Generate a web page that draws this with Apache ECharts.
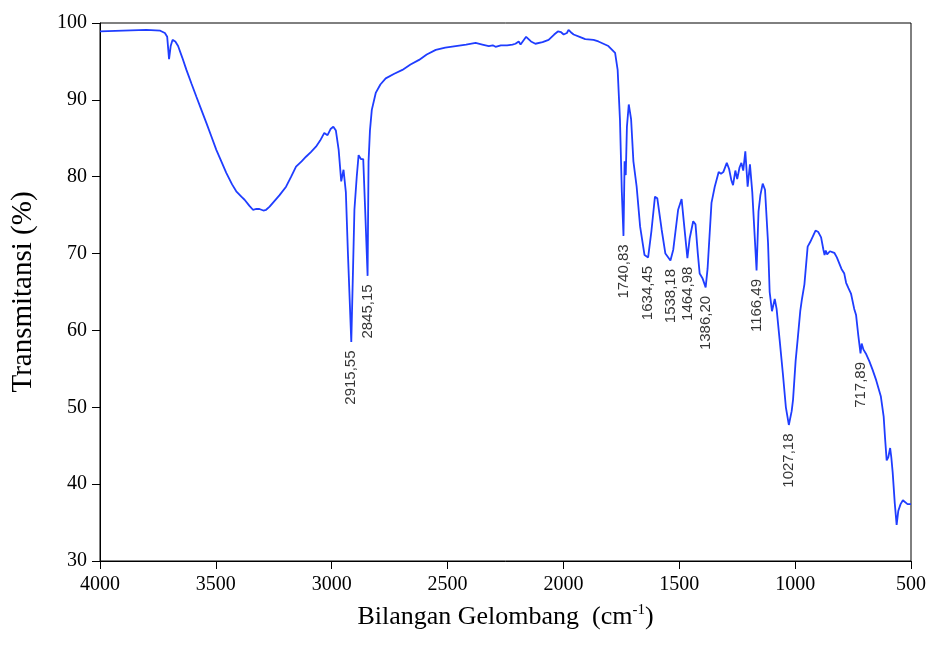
<!DOCTYPE html>
<html>
<head>
<meta charset="utf-8">
<script src="https://cdn.jsdelivr.net/npm/echarts@6/dist/echarts.min.js"></script>
<style>
    html, body { margin: 0; padding: 0; background: #fff; }
    #ftir { width: 929px; height: 649px; }
</style>
</head>
<body>
<div id="ftir"></div>
<script>
    // spektrum FTIR - bilangan gelombang (cm-1) dan transmitansi (%)
    var waveNumber = [
        4000, 3900, 3800, 3740, 3720, 3710, 3702, 3695, 3687, 3675, 3663, 3645, 3627, 3605, 3584, 3560,
        3541, 3520, 3498, 3475, 3455, 3430, 3412, 3390, 3376, 3355, 3340, 3325, 3312, 3295, 3283, 3268,
        3254, 3225, 3197, 3175, 3154, 3130, 3111, 3090, 3068, 3050, 3032, 3018, 3005, 2993, 2982, 2970,
        2959, 2949, 2939, 2930, 2915.55, 2908, 2902, 2892, 2884, 2874, 2864, 2856, 2845.15, 2841, 2835, 2827,
        2810, 2790, 2767, 2730, 2695, 2660, 2623, 2590, 2551, 2510, 2465, 2420, 2379, 2350, 2322, 2305,
        2293, 2270, 2243, 2220, 2207, 2193, 2185, 2161, 2140, 2121, 2090, 2064, 2040, 2024, 2010, 1999,
        1985, 1978, 1968, 1956, 1930, 1906, 1870, 1849, 1806, 1777, 1766, 1756, 1748, 1740.83, 1736, 1731,
        1726, 1718, 1708, 1698, 1684, 1669, 1650, 1634.45, 1620, 1605, 1595, 1576, 1560, 1538.18, 1526, 1505,
        1490, 1480, 1464.98, 1455, 1440, 1430, 1420, 1412, 1400, 1386.20, 1378, 1361, 1347, 1330, 1320, 1310,
        1295, 1285, 1275, 1268, 1258, 1250, 1240, 1232, 1224, 1215, 1205, 1195, 1185, 1166.49, 1158, 1150,
        1140, 1130, 1117, 1110, 1100, 1088, 1080, 1067, 1053, 1040, 1027.18, 1015, 1009, 998, 988, 978,
        971, 960, 946, 935, 924, 912, 900, 888, 878, 873, 868, 862, 850, 840, 831, 820,
        800, 788, 780, 770, 759, 745, 737, 728, 717.89, 713, 705, 695, 680, 666, 650, 630,
        618, 612, 605, 598, 590, 585, 579, 570, 562, 555, 545, 535, 529, 515, 500
    ];
    var transmitansi = [
        98.9, 99.0, 99.1, 99.0, 98.7, 98.2, 95.3, 97.0, 97.8, 97.6, 97.0, 95.5, 93.9, 92.1, 90.4, 88.5,
        87.0, 85.3, 83.5, 81.9, 80.5, 79.0, 78.1, 77.4, 77.0, 76.2, 75.7, 75.8, 75.8, 75.6, 75.7, 76.1,
        76.6, 77.6, 78.7, 80.0, 81.3, 82.0, 82.6, 83.2, 83.9, 84.7, 85.7, 85.4, 86.2, 86.5, 86.0, 83.5,
        79.4, 80.9, 78.0, 70.0, 58.5, 68.0, 75.7, 80.0, 82.8, 82.3, 82.3, 76.0, 67.1, 82.0, 86.0, 88.7,
        90.9, 92.0, 92.8, 93.4, 93.9, 94.6, 95.2, 95.9, 96.5, 96.8, 97.0, 97.2, 97.4, 97.2, 97.0, 97.1,
        96.9, 97.1, 97.1, 97.2, 97.3, 97.6, 97.2, 98.2, 97.6, 97.3, 97.5, 97.8, 98.5, 98.9, 98.8, 98.5,
        98.7, 99.1, 98.8, 98.5, 98.2, 97.9, 97.8, 97.6, 97.0, 96.1, 93.9, 87.4, 78.0, 72.3, 82.0, 80.2,
        86.5, 89.4, 87.5, 82.0, 78.7, 73.5, 69.8, 69.5, 73.0, 77.4, 77.2, 73.1, 70.0, 69.1, 70.5, 75.7,
        77.1, 74.0, 69.4, 72.0, 74.2, 73.8, 70.0, 67.4, 66.8, 65.6, 68.0, 76.6, 78.7, 80.6, 80.4, 80.6,
        81.8, 81.0, 79.5, 78.9, 80.8, 79.7, 81.2, 81.8, 80.8, 83.3, 78.7, 81.6, 78.0, 67.8, 75.5, 77.6,
        79.1, 78.3, 71.4, 65.0, 62.5, 64.1, 62.8, 58.8, 54.4, 50.0, 47.7, 49.5, 51.0, 56.0, 59.2, 62.5,
        64.0, 66.0, 70.9, 71.5, 72.2, 73.0, 72.8, 72.1, 70.5, 69.8, 70.4, 69.9, 70.3, 70.2, 70.1, 69.5,
        68.0, 67.4, 66.2, 65.5, 64.8, 62.8, 62.0, 59.5, 57.0, 58.3, 57.5, 57.0, 56.0, 54.9, 53.5, 51.4,
        48.8, 46.0, 43.1, 43.5, 44.7, 43.5, 41.5, 37.5, 34.7, 36.5, 37.4, 37.9, 37.8, 37.4, 37.4
    ];
    // label puncak serapan
    var peakWave = [2915.55, 2845.15, 1740.83, 1634.45, 1538.18, 1464.98, 1386.20, 1166.49, 1027.18, 717.89];
    var peakT = [58.5, 67.1, 72.3, 69.5, 69.1, 69.4, 65.6, 67.8, 47.7, 57.0];
    var peakLabel = ['2915,55', '2845,15', '1740,83', '1634,45', '1538,18', '1464,98', '1386,20', '1166,49', '1027,18', '717,89'];
    var xTicks = [4000, 3500, 3000, 2500, 2000, 1500, 1000, 500];
    var yTicks = [30, 40, 50, 60, 70, 80, 90, 100];

    var lineData = [];
    waveNumber.forEach(function (w, i) {
        lineData.push([w, transmitansi[i]]);
    });
    var peakData = [];
    peakWave.forEach(function (w, i) {
        peakData.push({value: [w, peakT[i]], name: peakLabel[i]});
    });

    var serif = 'Liberation Serif, Times New Roman, serif';
    var chart = echarts.init(document.getElementById('ftir'));
    var option = {
        backgroundColor: '#fff',
        animation: false,
        grid: {
            left: 100,
            right: 16,
            top: 23,
            bottom: 88,
            show: true,
            borderColor: '#000',
            borderWidth: 1
        },
        xAxis: {
            type: 'value',
            inverse: true,
            min: xTicks[xTicks.length - 1],
            max: xTicks[0],
            interval: 500,
            name: '{t|Bilangan Gelombang  (cm}{s|-1}{t|)}',
            nameLocation: 'middle',
            nameGap: 42,
            nameTextStyle: {
                rich: {
                    t: {fontFamily: serif, fontSize: 26, color: '#000'},
                    s: {fontFamily: serif, fontSize: 15, color: '#000', padding: [0, 0, 14, 0]}
                }
            },
            axisLine: {show: true, lineStyle: {color: '#000', width: 1}},
            axisTick: {show: true, length: 8, lineStyle: {color: '#000'}},
            axisLabel: {
                color: '#000', fontFamily: serif, fontSize: 20, margin: 14,
                formatter: function (v) { return String(v); }
            },
            splitLine: {show: false}
        },
        yAxis: {
            type: 'value',
            min: yTicks[0],
            max: yTicks[yTicks.length - 1],
            interval: 10,
            name: 'Transmitansi (%)',
            nameLocation: 'middle',
            nameGap: 62,
            nameTextStyle: {fontFamily: serif, fontSize: 29, color: '#000'},
            axisLine: {show: true, lineStyle: {color: '#000', width: 1}},
            axisTick: {show: true, length: 8, lineStyle: {color: '#000'}},
            axisLabel: {
                color: '#000', fontFamily: serif, fontSize: 20, margin: 13,
                formatter: function (v) { return String(v); }
            },
            splitLine: {show: false}
        },
        series: [
            {
                type: 'line',
                data: lineData,
                showSymbol: false,
                symbol: 'none',
                lineStyle: {color: '#1f3dff', width: 1.8},
                z: 3
            },
            {
                type: 'scatter',
                data: peakData,
                symbol: 'circle',
                symbolSize: 1,
                itemStyle: {color: 'rgba(0,0,0,0)'},
                silent: true,
                label: {
                    show: true,
                    formatter: '{b}',
                    position: 'bottom',
                    distance: 8,
                    rotate: 90,
                    align: 'right',
                    verticalAlign: 'middle',
                    fontFamily: 'Liberation Sans, Arial, sans-serif',
                    fontSize: 15,
                    color: '#000'
                },
                labelLayout: {hideOverlap: false},
                z: 4
            }
        ]
    };
    chart.setOption(option);
</script>
</body>
</html>
